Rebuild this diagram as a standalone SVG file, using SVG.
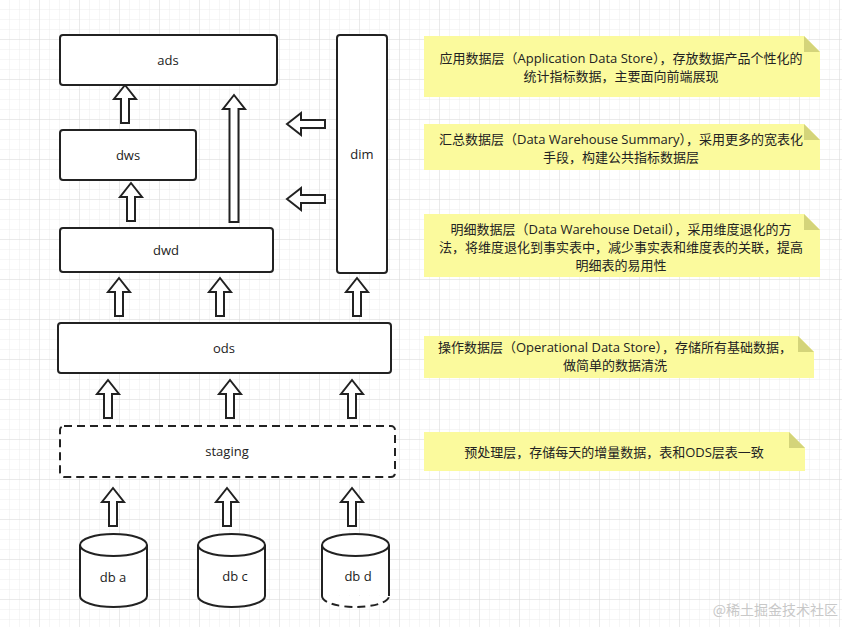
<svg xmlns="http://www.w3.org/2000/svg" width="842" height="627" viewBox="0 0 842 627">
<defs>
<pattern id="g" width="10" height="10" patternUnits="userSpaceOnUse"><path d="M10 0V10H0" fill="none" stroke="#ececec" stroke-width="1"/></pattern>
<pattern id="G" width="40" height="40" patternUnits="userSpaceOnUse"><rect width="40" height="40" fill="url(#g)"/><path d="M40 0V40H0" fill="none" stroke="#dedede" stroke-width="1"/></pattern>
<path id="up" d="M0 0 L11 14 L4 14 L4 38 L-4 38 L-4 14 L-11 14 Z"/>
</defs>
<style>
.n{fill:#fff;stroke:#222;stroke-width:2}
.d{stroke-dasharray:8 5}
.a{fill:#fff;stroke:#222;stroke-width:2;stroke-linejoin:miter}
.t{font-family:"Open Sans","Liberation Sans",sans-serif;font-size:13px;fill:#222;text-anchor:middle}
.c{font-family:"Open Sans","Noto Sans CJK SC",sans-serif;font-size:13px;fill:#222;text-anchor:middle}
.y{fill:#fbfa9d}
.f{fill:#d4d47a}
</style>
<rect width="842" height="627" fill="#fff"/>
<rect width="842" height="627" fill="url(#G)"/>
<g id="connectors">
<use href="#up" class="a" transform="translate(125,85)"/>
<path class="a" d="M234 95 L245 109 L238.5 109 L238.5 222 L229.5 222 L229.5 109 L223 109 Z"/>
<use href="#up" class="a" transform="translate(131,183)"/>
<use href="#up" class="a" transform="translate(119,278)"/>
<use href="#up" class="a" transform="translate(220,278)"/>
<use href="#up" class="a" transform="translate(357,278)"/>
<use href="#up" class="a" transform="translate(108,380)"/>
<use href="#up" class="a" transform="translate(230,380)"/>
<use href="#up" class="a" transform="translate(352,380)"/>
<use href="#up" class="a" transform="translate(113,488)"/>
<use href="#up" class="a" transform="translate(227,488)"/>
<use href="#up" class="a" transform="translate(352,488)"/>
<use href="#up" class="a" transform="translate(287,124) rotate(-90)"/>
<use href="#up" class="a" transform="translate(287,199) rotate(-90)"/>
</g>
<g id="ads"><rect class="n" x="60" y="35" width="217" height="50" rx="3"/><text class="t" x="168" y="65">ads</text></g>
<g id="dws"><rect class="n" x="60" y="130" width="136" height="50" rx="3"/><text class="t" x="128" y="160">dws</text></g>
<g id="dwd"><rect class="n" x="60" y="228" width="213" height="44" rx="3"/><text class="t" x="166" y="255">dwd</text></g>
<g id="dim"><rect class="n" x="337" y="35" width="50" height="238" rx="3"/><text class="t" x="362" y="159">dim</text></g>
<g id="ods"><rect class="n" x="58" y="323" width="333" height="50" rx="3"/><text class="t" x="224" y="353">ods</text></g>
<g id="staging"><rect class="n d" x="60" y="426" width="335" height="51" rx="4"/><text class="t" x="227" y="456">staging</text></g>
<g id="dba"><path class="n" d="M80 545 V596 A33.5 11 0 0 0 147 596 V545"/><ellipse class="n" cx="113.5" cy="545" rx="33.5" ry="11"/><text class="t" x="113" y="582">db a</text></g>
<g id="dbc"><path class="n" d="M198 545 V596 A33.5 11 0 0 0 265 596 V545"/><ellipse class="n" cx="231.5" cy="545" rx="33.5" ry="11"/><text class="t" x="235" y="581">db c</text></g>
<g id="dbd"><path class="n" d="M322 545 V596"/><path class="n" d="M389 545 V596"/><path class="n d" fill="none" d="M322 596 A33.5 11 0 0 0 389 596"/><path fill="#fff" stroke="none" d="M323 546 H388 V595 H323Z"/><ellipse class="n" cx="355.5" cy="545" rx="33.5" ry="11"/><text class="t" x="358" y="581">db d</text></g>
<g id="note-ads"><path class="y" d="M424 36 H804 L820 52 V97 H424Z"/><path class="f" d="M804 36 L820 52 H804Z"/><text class="c" x="621" y="63">应用数据层（Application Data Store），存放数据产品个性化的</text><text class="c" x="621" y="81">统计指标数据，主要面向前端展现</text></g>
<g id="note-dws"><path class="y" d="M424 124 H804 L820 140 V170 H424Z"/><path class="f" d="M804 124 L820 140 H804Z"/><text class="c" x="621" y="144">汇总数据层（Data Warehouse Summary），采用更多的宽表化</text><text class="c" x="621" y="162">手段，构建公共指标数据层</text></g>
<g id="note-dwd"><path class="y" d="M424 214 H804 L820 230 V277 H424Z"/><path class="f" d="M804 214 L820 230 H804Z"/><text class="c" x="621" y="234">明细数据层（Data Warehouse Detail），采用维度退化的方</text><text class="c" x="621" y="252">法，将维度退化到事实表中，减少事实表和维度表的关联，提高</text><text class="c" x="621" y="270">明细表的易用性</text></g>
<g id="note-ods"><path class="y" d="M424 336 H798 L814 352 V378 H424Z"/><path class="f" d="M798 336 L814 352 H798Z"/><text class="c" x="615" y="352">操作数据层（Operational Data Store），存储所有基础数据，</text><text class="c" x="615" y="370">做简单的数据清洗</text></g>
<g id="note-staging"><path class="y" d="M424 432 H789 L805 448 V471 H424Z"/><path class="f" d="M789 432 L805 448 H789Z"/><text class="c" x="614" y="457">预处理层，存储每天的增量数据，表和ODS层表一致</text></g>
<text x="838" y="615" text-anchor="end" font-family="'Noto Sans CJK SC',sans-serif" font-size="14" fill="#c8c8c8">@稀土掘金技术社区</text>
</svg>
